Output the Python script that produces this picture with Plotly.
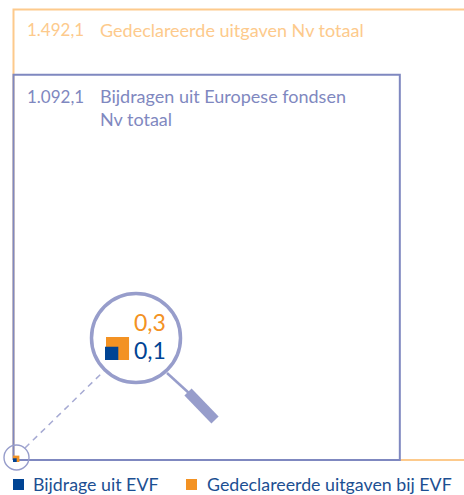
import math
import plotly.graph_objects as go

# Data
total_labels = ["Gedeclareerde uitgaven Nv totaal", "Bijdragen uit Europese fondsen<br>Nv totaal"]
total_values = [1492.1, 1092.1]
evf_labels = ["Gedeclareerde uitgaven bij EVF", "Bijdrage uit EVF"]
evf_values = [0.3, 0.1]
evf_value_text = ["0,3", "0,1"]
total_value_text = ["1.492,1", "1.092,1"]

W, H = 464, 495
OX, OY = 13.5, 460.0       # pixel position of the origin
KX, KY = 11.69, 11.66      # pixels per sqrt(unit) - area is proportional to value
MAG = 3.6                  # magnifier enlargement

ORANGE_LIGHT = "#fdca8c"
PERI = "#7f88c0"
PERI_LIGHT = "#979dcb"
ORANGE = "#f39223"
BLUE = "#004494"
TEXT_BLUE = "#1c4f92"


def dx(px):
    return (px - OX) / KX


def dy(py):
    return (OY - py) / KY


def square(x0, y0, side):
    return [x0, x0 + side, x0 + side, x0, x0], [y0, y0, y0 + side, y0 + side, y0]


def px(x):
    return x / W


def py(y):
    return 1 - y / H


fig = go.Figure()

# Large outlined squares
for v, colour in zip(total_values, [ORANGE_LIGHT, PERI]):
    xs, ys = square(0, 0, math.sqrt(v))
    fig.add_trace(go.Scatter(x=xs, y=ys, mode="lines", line=dict(color=colour, width=2),
                             hoverinfo="skip", showlegend=False, cliponaxis=True))

# Tiny true-scale squares at the origin, and their magnified copies
for v, colour in zip(evf_values, [ORANGE, BLUE]):
    s = math.sqrt(v)
    xs, ys = square(dx(13), dy(462), s)
    fig.add_trace(go.Scatter(x=xs, y=ys, mode="lines", fill="toself", fillcolor=colour,
                             line=dict(width=0, color=colour), hoverinfo="skip", showlegend=False))
for v, colour, x0 in zip(evf_values, [ORANGE, BLUE], [106.0, 105.0]):
    s = math.sqrt(v) * MAG
    xs, ys = square(dx(x0), dy(360), s)
    fig.add_trace(go.Scatter(x=xs, y=ys, mode="lines", fill="toself", fillcolor=colour,
                             line=dict(width=0, color=colour), hoverinfo="skip", showlegend=False))

shapes = [
    # small circle at origin
    dict(type="circle", xref="paper", yref="paper", x0=px(4), x1=px(29), y0=py(470), y1=py(445),
         line=dict(color=PERI_LIGHT, width=1.4)),
    # dashed leader
    dict(type="line", xref="paper", yref="paper", x0=px(25), y0=py(448), x1=px(104), y1=py(371),
         line=dict(color="#a6aad3", width=1.5, dash="6px,5px")),
    # magnifier lens
    dict(type="circle", xref="paper", yref="paper", x0=px(91.5), x1=px(180.5), y0=py(382.5), y1=py(293.5),
         line=dict(color=PERI_LIGHT, width=3.5)),
    # handle
    dict(type="line", xref="paper", yref="paper", x0=px(167), y0=py(373), x1=px(190), y1=py(394),
         line=dict(color=PERI_LIGHT, width=2.5)),
    dict(type="line", xref="paper", yref="paper", x0=px(188), y0=py(392), x1=px(215), y1=py(420),
         line=dict(color=PERI_LIGHT, width=10)),
    # legend swatches
    dict(type="rect", xref="paper", yref="paper", x0=px(13), x1=px(24), y0=py(490), y1=py(479),
         fillcolor=BLUE, line=dict(width=0)),
    dict(type="rect", xref="paper", yref="paper", x0=px(186), x1=px(197), y0=py(490), y1=py(479),
         fillcolor=ORANGE, line=dict(width=0)),
]


def note(x, y, text, colour, size):
    return dict(xref="paper", yref="paper", x=px(x), y=py(y), text=text, showarrow=False,
                xanchor="left", yanchor="middle", align="left",
                font=dict(family="Lato", size=size, color=colour))


annotations = [
    note(25, 30, total_value_text[0], ORANGE_LIGHT, 17),
    note(98, 30, total_labels[0], ORANGE_LIGHT, 18),
    note(25, 96, total_value_text[1], PERI, 17),
    note(98, 107, total_labels[1], PERI, 18),
    note(132, 322, evf_value_text[0], ORANGE, 23),
    note(132, 350, evf_value_text[1], BLUE, 23),
    note(31, 484, evf_labels[1], TEXT_BLUE, 17.8),
    note(205, 484, evf_labels[0], TEXT_BLUE, 17.8),
]

fig.update_layout(
    width=W, height=H, autosize=False,
    margin=dict(l=0, r=0, t=0, b=0),
    paper_bgcolor="white", plot_bgcolor="white",
    showlegend=False,
    shapes=shapes, annotations=annotations,
    xaxis=dict(visible=False, range=[dx(0), dx(W)], fixedrange=True),
    yaxis=dict(visible=False, range=[dy(H), dy(0)], fixedrange=True),
)
fig.write_html("out.html", config=dict(displayModeBar=False),
               post_script="document.body.style.margin='0';document.body.style.overflow='hidden';")
